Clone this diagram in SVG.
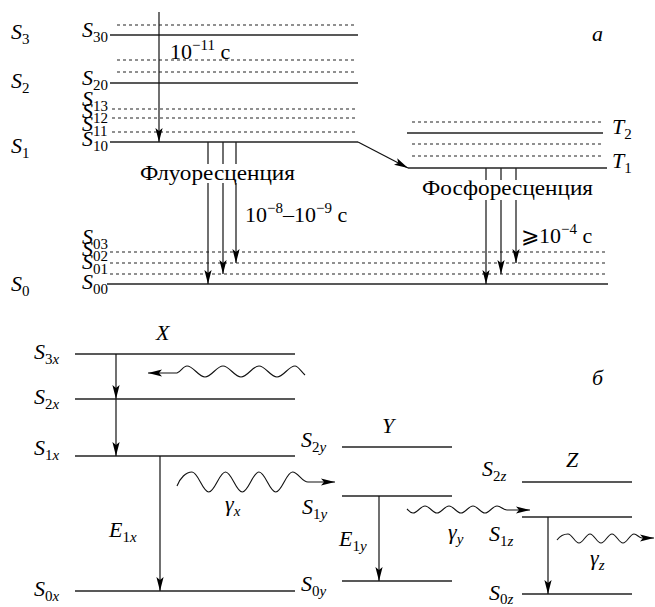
<svg xmlns="http://www.w3.org/2000/svg" width="655" height="607" viewBox="0 0 655 607" font-family="'Liberation Serif', 'Times New Roman', serif">
<defs>
<marker id="ah" markerUnits="userSpaceOnUse" viewBox="0 0 15 8" markerWidth="15" markerHeight="8" refX="14" refY="4" orient="auto">
<path d="M0,0.4 L14,4 L0,7.6 L3,4 z" fill="#000"/>
</marker>
<style>
.ln{stroke:#222;stroke-width:1.3;fill:none}
.dt{stroke:#222;stroke-width:1.1;fill:none;stroke-dasharray:3 3}
.ar{stroke:#111;stroke-width:1.2;fill:none;marker-end:url(#ah)}
.wv{stroke:#111;stroke-width:1.1;fill:none;marker-end:url(#ah)}
text{font-family:'Liberation Serif','Times New Roman',serif;font-size:22px;fill:#000}
.i{font-style:italic}
.s{font-size:15px}
</style>
</defs>
<rect width="655" height="607" fill="#fff"/>

<!-- ===== Part a ===== -->
<g id="S3">
<line class="dt" x1="117" y1="25" x2="356" y2="25"/>
<line class="ln" x1="110" y1="35" x2="358" y2="35"/>
<text x="11" y="39"><tspan class="i">S</tspan><tspan class="s" dy="5">3</tspan></text>
<text x="82" y="37"><tspan class="i">S</tspan><tspan class="s" dy="5">30</tspan></text>
</g>
<g id="S2">
<line class="dt" x1="117" y1="60" x2="356" y2="60"/>
<line class="dt" x1="117" y1="72" x2="356" y2="72"/>
<line class="ln" x1="110" y1="83" x2="358" y2="83"/>
<text x="11" y="88"><tspan class="i">S</tspan><tspan class="s" dy="5">2</tspan></text>
<text x="82" y="85"><tspan class="i">S</tspan><tspan class="s" dy="5">20</tspan></text>
</g>
<g id="S1">
<line class="dt" x1="112" y1="109" x2="356" y2="109"/>
<line class="dt" x1="112" y1="118" x2="356" y2="118"/>
<line class="dt" x1="112" y1="132" x2="356" y2="132"/>
<line class="ln" x1="110" y1="142" x2="358" y2="142"/>
<text x="11" y="153"><tspan class="i">S</tspan><tspan class="s" dy="5">1</tspan></text>
<text x="82" y="106"><tspan class="i">S</tspan><tspan class="s" dy="5">13</tspan></text>
<text x="82" y="118"><tspan class="i">S</tspan><tspan class="s" dy="5">12</tspan></text>
<text x="82" y="131"><tspan class="i">S</tspan><tspan class="s" dy="5">11</tspan></text>
<text x="82" y="146"><tspan class="i">S</tspan><tspan class="s" dy="5">10</tspan></text>
</g>
<g id="T">
<line class="dt" x1="412" y1="122" x2="603" y2="122"/>
<line class="ln" x1="407" y1="133" x2="603" y2="133"/>
<line class="dt" x1="412" y1="144" x2="603" y2="144"/>
<line class="dt" x1="412" y1="156" x2="603" y2="156"/>
<line class="ln" x1="408" y1="168" x2="607" y2="168"/>
<text x="612" y="134"><tspan class="i">T</tspan><tspan class="s" dy="5">2</tspan></text>
<text x="612" y="168"><tspan class="i">T</tspan><tspan class="s" dy="5">1</tspan></text>
</g>
<g id="S0">
<line class="dt" x1="110" y1="252" x2="606" y2="252"/>
<line class="dt" x1="110" y1="263" x2="606" y2="263"/>
<line class="dt" x1="110" y1="274" x2="606" y2="274"/>
<line class="ln" x1="107" y1="284" x2="608" y2="284"/>
<text x="11" y="291"><tspan class="i">S</tspan><tspan class="s" dy="5">0</tspan></text>
<text x="82" y="244"><tspan class="i">S</tspan><tspan class="s" dy="5">03</tspan></text>
<text x="82" y="256"><tspan class="i">S</tspan><tspan class="s" dy="5">02</tspan></text>
<text x="82" y="269"><tspan class="i">S</tspan><tspan class="s" dy="5">01</tspan></text>
<text x="82" y="289"><tspan class="i">S</tspan><tspan class="s" dy="5">00</tspan></text>
</g>
<g id="labels-a">
<text x="170" y="59">10<tspan class="s" dy="-9">−11</tspan><tspan dy="9"> с</tspan></text>
<text x="140" y="180" textLength="155" lengthAdjust="spacingAndGlyphs">Флуоресценция</text>
<text x="245" y="222">10<tspan class="s" dy="-9">−8</tspan><tspan dy="9">–10</tspan><tspan class="s" dy="-9">−9</tspan><tspan dy="9"> с</tspan></text>
<text x="422" y="195" textLength="171" lengthAdjust="spacingAndGlyphs">Фосфоресценция</text>
<text x="521" y="243">⩾10<tspan class="s" dy="-9">−4</tspan><tspan dy="9"> с</tspan></text>
<text class="i" x="592" y="41">a</text>
</g>
<g id="connectors-a">
<line class="ar" x1="159" y1="12" x2="159" y2="142"/>
<path class="ar" d="M358,142 L408,168"/>
<line class="ln" x1="208" y1="142" x2="208" y2="164"/>
<line class="ln" x1="223" y1="142" x2="223" y2="164"/>
<line class="ln" x1="236" y1="142" x2="236" y2="164"/>
<line class="ar" x1="208" y1="183" x2="208" y2="284"/>
<line class="ar" x1="223" y1="183" x2="223" y2="274"/>
<line class="ar" x1="236" y1="183" x2="236" y2="263"/>
<line class="ln" x1="486" y1="168" x2="486" y2="180"/>
<line class="ln" x1="501" y1="168" x2="501" y2="180"/>
<line class="ln" x1="516" y1="168" x2="516" y2="180"/>
<line class="ar" x1="486" y1="200" x2="486" y2="284"/>
<line class="ar" x1="501" y1="200" x2="501" y2="274"/>
<line class="ar" x1="516" y1="200" x2="516" y2="263"/>
</g>

<!-- ===== Part б ===== -->
<g id="X">
<line class="ln" x1="75" y1="354" x2="295" y2="354"/>
<line class="ln" x1="75" y1="399" x2="295" y2="399"/>
<line class="ln" x1="75" y1="456" x2="295" y2="456"/>
<line class="ln" x1="75" y1="591" x2="295" y2="591"/>
<text class="i" x="156" y="340">X</text>
<text x="34" y="359"><tspan class="i">S</tspan><tspan class="s" dy="5">3<tspan class="i">x</tspan></tspan></text>
<text x="34" y="404"><tspan class="i">S</tspan><tspan class="s" dy="5">2<tspan class="i">x</tspan></tspan></text>
<text x="34" y="455"><tspan class="i">S</tspan><tspan class="s" dy="5">1<tspan class="i">x</tspan></tspan></text>
<text x="34" y="596"><tspan class="i">S</tspan><tspan class="s" dy="5">0<tspan class="i">x</tspan></tspan></text>
<text x="109" y="537"><tspan class="i">E</tspan><tspan class="s" dy="5">1<tspan class="i">x</tspan></tspan></text>
</g>
<g id="Y">
<line class="ln" x1="342" y1="447" x2="452" y2="447"/>
<line class="ln" x1="342" y1="496" x2="452" y2="496"/>
<line class="ln" x1="342" y1="581" x2="452" y2="581"/>
<text class="i" x="382" y="433">Y</text>
<text x="301" y="447"><tspan class="i">S</tspan><tspan class="s" dy="5">2<tspan class="i">y</tspan></tspan></text>
<text x="302" y="514"><tspan class="i">S</tspan><tspan class="s" dy="5">1<tspan class="i">y</tspan></tspan></text>
<text x="301" y="591"><tspan class="i">S</tspan><tspan class="s" dy="5">0<tspan class="i">y</tspan></tspan></text>
<text x="339" y="546"><tspan class="i">E</tspan><tspan class="s" dy="5">1<tspan class="i">y</tspan></tspan></text>
</g>
<g id="Z">
<line class="ln" x1="522" y1="482" x2="632" y2="482"/>
<line class="ln" x1="522" y1="517" x2="632" y2="517"/>
<line class="ln" x1="522" y1="594" x2="632" y2="594"/>
<text class="i" x="566" y="467">Z</text>
<text x="482" y="476"><tspan class="i">S</tspan><tspan class="s" dy="5">2<tspan class="i">z</tspan></tspan></text>
<text x="489" y="541"><tspan class="i">S</tspan><tspan class="s" dy="5">1<tspan class="i">z</tspan></tspan></text>
<text x="489" y="600"><tspan class="i">S</tspan><tspan class="s" dy="4">0<tspan class="i">z</tspan></tspan></text>
</g>
<g id="labels-b">
<text x="225" y="511"><tspan class="i">γ</tspan><tspan class="s i" dy="5">x</tspan></text>
<text x="448" y="539"><tspan class="i">γ</tspan><tspan class="s i" dy="5">y</tspan></text>
<text x="590" y="565"><tspan class="i">γ</tspan><tspan class="s i" dy="5">z</tspan></text>
<text class="i" x="592" y="385">б</text>
</g>
<g id="connectors-b">
<line class="ar" x1="116" y1="354" x2="116" y2="399"/>
<line class="ar" x1="116" y1="399" x2="116" y2="456"/>
<line class="ar" x1="160" y1="456" x2="160" y2="591"/>
<line class="ar" x1="379" y1="496" x2="379" y2="581"/>
<line class="ar" x1="548" y1="517" x2="548" y2="594"/>
<path class="wv" d="M305,375 C300,370 298,366 295,366 C288.5,366 283.5,377 277,377 S265.5,366 259,366 S247.5,377 241,377 S229.5,366 223,366 S211.5,377 205,377 S193.5,366 187,366 C183,366 181,372 177,373 L148,373"/>
<path class="wv" d="M177,486 C180,478 186,472 192,472 C198.1,472 202.65,492 208.75,492 S219.4,472 225.5,472 S236.15,492 242.25,492 S252.9,472 259,472 S269.65,492 275.75,492 S286.4,472 292.5,472 C298,472 302,482 308,482 L335,482"/>
<path class="wv" d="M407,509 C409,511 410,513 413,513 C417.4,513 420.6,506 425,506 S432.6,513 437,513 S444.6,506 449,506 S456.6,513 461,513 S468.6,506 473,506 S480.6,513 485,513 S492.6,506 497,506 C501,506 503,510 507,510 L530,510"/>
<path class="wv" d="M557,540 C560,536 564,534 568,534 C572,534 575,543 579,543 S586,534 590,534 S597,543 601,543 S608,534 612,534 S619,543 623,543 S630,534 634,534 C637,534 639,538 642,538 L654,538"/>
</g>
</svg>
